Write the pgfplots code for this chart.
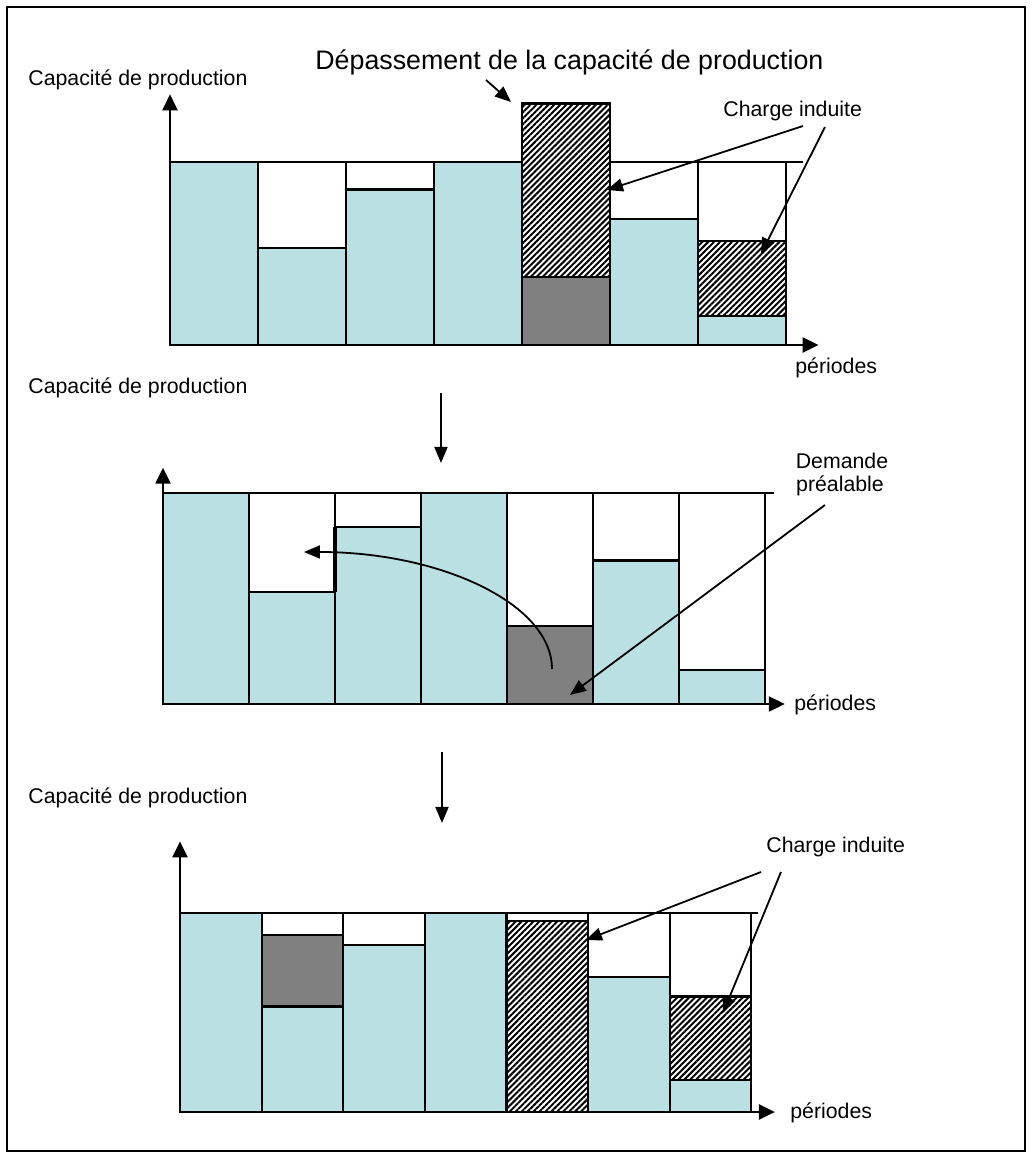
\documentclass[border=0pt]{standalone}
\usepackage{fontspec}
\setmainfont{Liberation Sans}
\usepackage{pgfplots}
\pgfplotsset{compat=1.18}
\usetikzlibrary{arrows.meta,patterns.meta}
\definecolor{lb}{RGB}{187,224,227}
\definecolor{dg}{RGB}{128,128,128}
\tikzset{
 hatch/.style={pattern={Lines[angle=45,distance=2.1bp,line width=1bp]}, pattern color=black},
 axarrow/.style={line width=1.2bp, -{Triangle[length=8bp,width=7.5bp]}},
 annarrow/.style={line width=0.9bp, -{Triangle[length=8bp,width=6.5bp]}},
 lbl/.style={font=\fontsize{10.65bp}{12.8bp}\selectfont, inner sep=0pt, anchor=base west},
}
\pgfplotsset{
 panel/.style={axis lines=none, anchor=south west, xmin=0, ymin=0, clip=false, enlargelimits=false},
 barstyle/.style={ybar interval, draw=black, line width=1.1bp},
}
\begin{document}
\begin{tikzpicture}
\path[use as bounding box] (0,0) rectangle (516bp,-579bp);

% ---------- Panel 1 ----------
\begin{axis}[panel, at={(85bp,-172.5bp)}, x=44bp, y=0.915bp, xmax=7.4, ymax=140]
 \addplot[barstyle, fill=white] coordinates {(0,100)(1,100)(2,100)(3,100)(4,100)(5,100)(6,100)(7,100)};
 \draw[line width=1.1bp] (axis cs:0,100) -- (axis cs:7.19,100);
 \addplot[barstyle, fill=white] coordinates {(0,0)(1,0)(2,0)(3,0)(4,132)(5,0)(6,57)(7,0)};
 \addplot[barstyle, hatch] coordinates {(0,0)(1,0)(2,0)(3,0)(4,132)(5,0)(6,57)(7,0)};
 \addplot[barstyle, fill=dg] coordinates {(0,0)(1,0)(2,0)(3,0)(4,37)(5,0)(6,0)(7,0)};
 \addplot[barstyle, fill=lb] coordinates {(0,100)(1,53)(2,85)(3,100)(4,0)(5,69)(6,16)(7,0)};
 \draw[axarrow] (axis cs:0,0) -- (axis cs:0,137);
 \draw[axarrow] (axis cs:0,0) -- (axis cs:7.37,0);
\end{axis}

% ---------- Panel 2 ----------
\begin{axis}[panel, at={(81.5bp,-352bp)}, x=43bp, y=1.055bp, xmax=7.3, ymax=115]
 \addplot[barstyle, fill=white] coordinates {(0,100)(1,100)(2,100)(3,100)(4,100)(5,100)(6,100)(7,100)};
 \draw[line width=1.1bp] (axis cs:0,100) -- (axis cs:7.1,100);
 \addplot[barstyle, fill=dg] coordinates {(0,0)(1,0)(2,0)(3,0)(4,37)(5,0)(6,0)(7,0)};
 \addplot[barstyle, fill=lb] coordinates {(0,100)(1,53)(2,84)(3,100)(4,0)(5,68)(6,16)(7,0)};
 \draw[line width=1.8bp] (axis cs:2,53) -- (axis cs:2,84);
 \draw[axarrow] (axis cs:0,0) -- (axis cs:0,112);
 \draw[axarrow] (axis cs:0,0) -- (axis cs:7.23,0);
\end{axis}

% ---------- Panel 3 ----------
\begin{axis}[panel, at={(90bp,-556bp)}, x=40.8bp, y=0.995bp, xmax=7.4, ymax=140]
 \addplot[barstyle, fill=white] coordinates {(0,100)(1,100)(2,100)(3,100)(4,100)(5,100)(6,100)(7,100)};
 \draw[line width=1.1bp] (axis cs:0,100) -- (axis cs:7.08,100);
 \addplot[barstyle, fill=white] coordinates {(0,0)(1,0)(2,0)(3,0)(4,96)(5,0)(6,58)(7,0)};
 \addplot[barstyle, hatch] coordinates {(0,0)(1,0)(2,0)(3,0)(4,96)(5,0)(6,58)(7,0)};
 \addplot[barstyle, fill=dg] coordinates {(0,0)(1,89)(2,0)(3,0)(4,0)(5,0)(6,0)(7,0)};
 \addplot[barstyle, fill=lb] coordinates {(0,100)(1,53)(2,84)(3,100)(4,0)(5,68)(6,16)(7,0)};
 \draw[axarrow] (axis cs:0,0) -- (axis cs:0,136);
 \draw[axarrow] (axis cs:0,0) -- (axis cs:7.29,0);
\end{axis}

% ---------- Annotations (pixel coordinates) ----------
\begin{scope}[x=0.5bp,y=-0.5bp]
 \draw[line width=0.8bp] (7,7) rectangle (1025,1151);
 % panel 1
 \node[lbl] at (28,86) {Capacité de production};
 \node[lbl, font=\fontsize{13.4bp}{16bp}\selectfont] at (315,69) {Dépassement de la capacité de production};
 \draw[annarrow] (486,80) -- (511,102);
 \node[lbl] at (723,117) {Charge induite};
 \draw[annarrow] (803,126) -- (607,190);
 \draw[annarrow] (825,127) -- (761,254);
 \node[lbl] at (795,374) {périodes};
 % arrow to panel 2
 \draw[annarrow] (441,393) -- (441,463);
 % panel 2
 \node[lbl] at (28,394) {Capacité de production};
 \node[lbl, anchor=base] at (842,469) {Demande};
 \node[lbl, anchor=base] at (840,492) {préalable};
 \draw[annarrow] (825,505) -- (570,695);
 \draw[annarrow] (552,669) .. controls (552,604) and (441,552) .. (304,552);
 \node[lbl] at (794,711) {périodes};
 % arrow to panel 3
 \draw[annarrow] (442,752) -- (442,823);
 % panel 3
 \node[lbl] at (28,804) {Capacité de production};
 \node[lbl] at (766,853) {Charge induite};
 \draw[annarrow] (761,872) -- (586,940);
 \draw[annarrow] (781,872) -- (723,1013);
 \node[lbl] at (790,1119) {périodes};
\end{scope}
\end{tikzpicture}
\end{document}
